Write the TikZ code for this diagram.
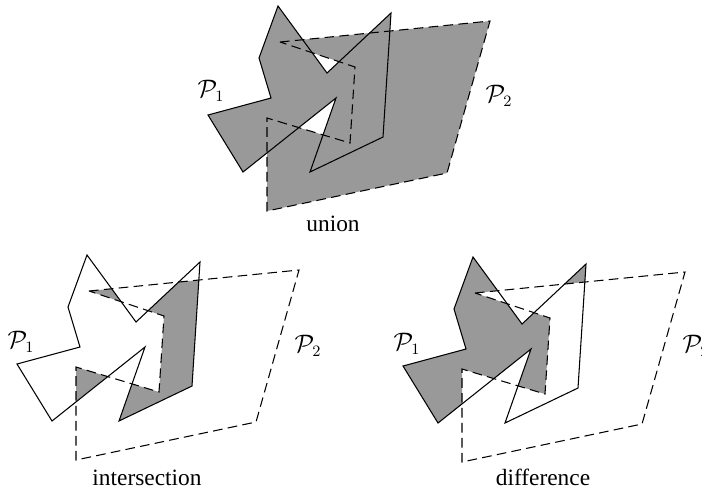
\documentclass[tikz,border=0pt]{standalone}
\usepackage{fontspec}
\setmainfont{Liberation Serif}
\usepackage{xcolor}
\definecolor{regiongray}{gray}{0.6}

\tikzset{
	polyone/.style={line width=0.6pt},
	polytwo/.style={line width=0.6pt, dash pattern=on 5.5pt off 3pt},
	lbl/.style={inner sep=0pt, font=\fontsize{13.3}{16}\selectfont},
}

% The two polygons (pixel grid of the upper copy)
\newcommand{\polyA}{(278,6) -- (327,73) -- (391,13) -- (383,137) -- (310,172) -- (336,98) -- (243,172) -- (208,115) -- (271,98) -- (259,58) -- cycle}
\newcommand{\polyB}{(280,42) -- (490,21) -- (447,173) -- (267,211) -- (267,118) -- (350,143) -- (355,67) -- cycle}

\begin{document}
\begin{tikzpicture}[x=0.02cm, y=-0.02cm, line join=miter]
	\useasboundingbox (0,0) rectangle (702,488);
	
	% union
	\fill[regiongray] \polyA;
	\fill[regiongray] \polyB;
	\draw[polytwo] \polyB;
	\draw[polyone] \polyA;
	\node (u1) at (211,91) [lbl] {$\mathcal{P}_1$};
	\node (u2) at (499,96) [lbl] {$\mathcal{P}_2$};
	\node (un) at (333,231) [lbl, anchor=base] {union};
	
	% intersection
	\begin{scope}[shift={(-191,249)}]
		\begin{scope}
			\clip \polyB;
			\fill[regiongray] \polyA;
		\end{scope}
		\draw[polytwo] \polyB;
		\draw[polyone] \polyA;
	\end{scope}
	\node (i1) at (21,342) [lbl] {$\mathcal{P}_1$};
	\node (i2) at (308,346) [lbl] {$\mathcal{P}_2$};
	\node (in) at (147,485) [lbl, anchor=base] {intersection};
	
	% difference
	\begin{scope}[shift={(195,251)}]
		\begin{scope}
			\clip \polyA;
			\fill[regiongray, even odd rule] \polyA \polyB;
		\end{scope}
		\draw[polytwo] \polyB;
		\draw[polyone] \polyA;
	\end{scope}
	\node (d1) at (407,344) [lbl] {$\mathcal{P}_1$};
	\node (d2) at (696,346) [lbl] {$\mathcal{P}_2$};
	\node (di) at (543,485) [lbl, anchor=base] {difference};
\end{tikzpicture}
\end{document}
